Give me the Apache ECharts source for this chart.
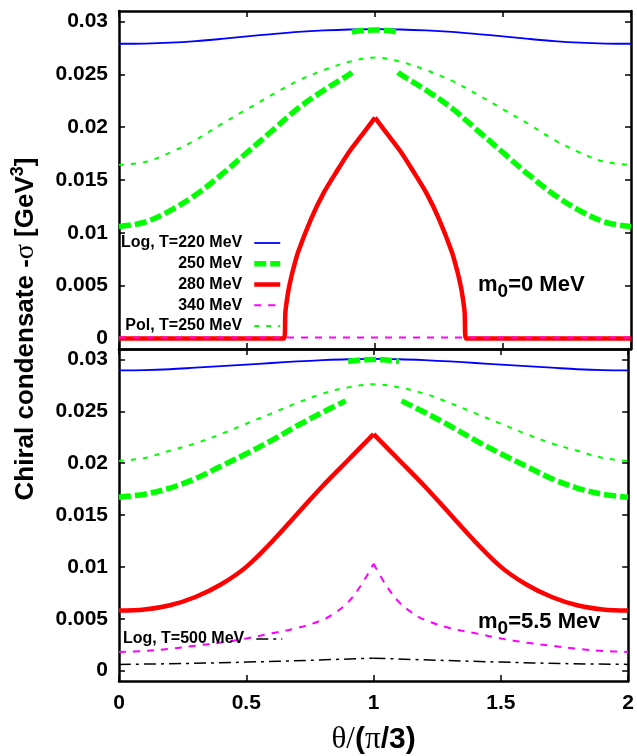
<!DOCTYPE html>
<html><head><meta charset="utf-8">
<script src="https://cdn.jsdelivr.net/npm/echarts@6/dist/echarts.min.js"></script>
<style>html,body{margin:0;padding:0;background:#fff}#c{width:637px;height:756px}</style>
</head><body><div id="c"></div>
<script>
// ---- tick labels ----
const xTicks = [0, 0.5, 1, 1.5, 2];
const yTicks = [0, 0.005, 0.01, 0.015, 0.02, 0.025, 0.03];

// ---- common x sampling ----
const xGrid = [0, 0.1, 0.2, 0.3, 0.4, 0.5, 0.6, 0.7, 0.8, 0.9, 1.0, 1.1, 1.2, 1.3, 1.4, 1.5, 1.6, 1.7, 1.8, 1.9, 2.0];

// ===== Top panel: m0 = 0 MeV =====
const blueTop = [0.02790, 0.02792, 0.02800, 0.02815, 0.02836, 0.02860, 0.02882, 0.02902, 0.02916, 0.02925, 0.02928,
                 0.02925, 0.02916, 0.02902, 0.02882, 0.02860, 0.02836, 0.02815, 0.02800, 0.02792, 0.02790];
const g250TopX = [0, 0.1, 0.2, 0.3, 0.4, 0.5, 0.6, 0.7, 0.8, 0.9, 0.91, 0.91, 0.91, 0.95, 1.0, 1.05, 1.09, 1.09, 1.09, 1.1, 1.2, 1.3, 1.4, 1.5, 1.6, 1.7, 1.8, 1.9, 2.0];
const g250TopY = [0.0106, 0.0110, 0.0121, 0.0136, 0.0155, 0.0176, 0.0197, 0.0218, 0.0235, 0.0250, 0.0252, null,
                  0.0290, 0.02915, 0.0292, 0.02915, 0.0290, null,
                  0.0252, 0.0250, 0.0235, 0.0218, 0.0197, 0.0176, 0.0155, 0.0136, 0.0121, 0.0110, 0.0106];
const redTopX = [0, 0.645, 0.65, 0.66, 0.67, 0.68, 0.70, 0.75, 0.80, 0.85, 0.90, 0.95, 1.00, 1.05, 1.10, 1.15, 1.20, 1.25, 1.30, 1.32, 1.33, 1.34, 1.35, 1.355, 2.0];
const redTopY = [0, 0, 0.0025, 0.0043, 0.0055, 0.0065, 0.0082, 0.0113, 0.0138, 0.0158, 0.0177, 0.0193, 0.0209,
                 0.0193, 0.0177, 0.0158, 0.0138, 0.0113, 0.0082, 0.0065, 0.0055, 0.0043, 0.0025, 0, 0];
const magTop = [0.0001, 0.0001, 0.0001, 0.0001, 0.0001, 0.0001, 0.0001, 0.0001, 0.0001, 0.0001, 0.0001,
                0.0001, 0.0001, 0.0001, 0.0001, 0.0001, 0.0001, 0.0001, 0.0001, 0.0001, 0.0001];
const polTop = [0.01645, 0.0167, 0.0176, 0.0188, 0.0203, 0.0217, 0.0231, 0.0244, 0.0254, 0.0262, 0.0266,
                0.0262, 0.0254, 0.0244, 0.0231, 0.0217, 0.0203, 0.0188, 0.0176, 0.0167, 0.01645];

// ===== Bottom panel: m0 = 5.5 MeV =====
const blueBot = [0.02894, 0.02896, 0.02905, 0.02920, 0.02935, 0.02950, 0.02965, 0.02980, 0.02992, 0.03001, 0.03005,
                 0.03001, 0.02992, 0.02980, 0.02965, 0.02950, 0.02935, 0.02920, 0.02905, 0.02896, 0.02894];
const g250BotX = [0, 0.1, 0.2, 0.3, 0.4, 0.5, 0.6, 0.7, 0.8, 0.89, 0.895, 0.9, 0.95, 1.0, 1.05, 1.1, 1.105, 1.11, 1.2, 1.3, 1.4, 1.5, 1.6, 1.7, 1.8, 1.9, 2.0];
const g250BotY = [0.01672, 0.0170, 0.0176, 0.0185, 0.0197, 0.0209, 0.0222, 0.0236, 0.0249, 0.0260, null,
                  0.0298, 0.02995, 0.0300, 0.02995, 0.0298, null,
                  0.0260, 0.0249, 0.0236, 0.0222, 0.0209, 0.0197, 0.0185, 0.0176, 0.0170, 0.01672];
const redBotX = [0, 0.1, 0.2, 0.3, 0.4, 0.5, 0.6, 0.7, 0.8, 0.9, 1.0, 1.1, 1.2, 1.3, 1.4, 1.5, 1.6, 1.7, 1.8, 1.9, 2.0];
const redBotY = [0.0058, 0.0059, 0.0063, 0.0071, 0.0083, 0.0100, 0.0124, 0.0151, 0.0178, 0.0203, 0.0228,
                 0.0203, 0.0178, 0.0151, 0.0124, 0.0100, 0.0083, 0.0071, 0.0063, 0.0059, 0.0058];
const magBotX = [0, 0.1, 0.2, 0.3, 0.4, 0.5, 0.6, 0.7, 0.8, 0.85, 0.9, 0.95, 1.0, 1.05, 1.1, 1.15, 1.2, 1.3, 1.4, 1.5, 1.6, 1.7, 1.8, 1.9, 2.0];
const magBotY = [0.0018, 0.0019, 0.0021, 0.0024, 0.0027, 0.0031, 0.0036, 0.0041, 0.0049, 0.0056, 0.0066, 0.0082, 0.0103,
                 0.0082, 0.0066, 0.0056, 0.0049, 0.0041, 0.0036, 0.0031, 0.0027, 0.0024, 0.0021, 0.0019, 0.0018];
const polBot = [0.0202, 0.0205, 0.0212, 0.0219, 0.0228, 0.0238, 0.0248, 0.0258, 0.0267, 0.0273, 0.0276,
                0.0273, 0.0267, 0.0258, 0.0248, 0.0238, 0.0228, 0.0219, 0.0212, 0.0205, 0.0202];
const blackBotX = [0, 0.25, 0.5, 0.75, 1.0, 1.25, 1.5, 1.75, 2.0];
const blackBotY = [0.0006, 0.00068, 0.00082, 0.0010, 0.0012, 0.0010, 0.00082, 0.00068, 0.0006];

// ===== names =====
const names = ['Log, T=220 MeV', '250 MeV', '280 MeV', '340 MeV', 'Pol, T=250 MeV'];
const name500 = 'Log, T=500 MeV';

const FONT = 'Liberation Sans';
const pairs = (xs, ys) => xs.map((x, i) => [x, ys[i] === null ? '-' : ys[i]]);
// split a curve with a cusp at x = 1 into its two smooth halves
const leftHalf = (xs, ys) => pairs(xs, ys).filter(p => p[0] <= 1);
const rightHalf = (xs, ys) => pairs(xs, ys).filter(p => p[0] >= 1);

function xAx(grid, pos, showLabel) {
  return {
    type: 'value', gridIndex: grid, position: pos, min: xTicks[0], max: xTicks[xTicks.length - 1], interval: 0.5,
    axisLine: { show: true, onZero: false, lineStyle: { color: '#000', width: 2.5 } },
    axisTick: { show: true, inside: true, length: 6, lineStyle: { color: '#000', width: 1.5 } },
    axisLabel: { show: showLabel, color: '#000', fontFamily: FONT, fontWeight: 'bold', fontSize: 21, margin: 12,
      formatter: v => String(v) },
    splitLine: { show: false }
  };
}
function yAx(grid, pos, showLabel) {
  return {
    type: 'value', gridIndex: grid, position: pos, min: -0.001, max: 0.031,
    axisLine: { show: true, onZero: false, lineStyle: { color: '#000', width: 2.5 } },
    axisTick: { show: true, inside: true, length: 6, customValues: yTicks, lineStyle: { color: '#000', width: 1.5 } },
    axisLabel: { show: showLabel, customValues: yTicks, color: '#000', fontFamily: FONT, fontWeight: 'bold', fontSize: 21, margin: 11,
      formatter: v => String(v) },
    splitLine: { show: false }
  };
}

function line(name, xi, yi, data, color, width, type, smooth, z) {
  return {
    type: 'line', name: name, xAxisIndex: xi, yAxisIndex: yi, data: data,
    symbol: 'none', showSymbol: false, connectNulls: false, smooth: smooth, animation: false,
    lineStyle: { color: color, width: width, type: type }, itemStyle: { color: color }, z: z || 2
  };
}

const BLUE = '#0000ff', GREEN = '#00ff00', RED = '#ff0000', MAG = '#ff00ff', BLACK = '#000000';
const dashThick = [12, 4], dashThin = [5, 7], dashMag = [7, 7], dashDot = [12, 5, 3, 5];
const SM = 0.35;

const chart = echarts.init(document.getElementById('c'), null, { renderer: 'canvas' });
const legendText = { fontFamily: FONT, fontWeight: 'bold', fontSize: 16, color: '#000', lineHeight: 20, padding: [0, 7, 0, 0] };

chart.setOption({
  animation: false,
  backgroundColor: '#fff',
  grid: [
    { left: 119, right: 6, top: 11, height: 338 },
    { left: 119, right: 6, top: 349, height: 339 }
  ],
  xAxis: [
    xAx(0, 'bottom', false),
    xAx(0, 'top', false),
    Object.assign(xAx(1, 'bottom', true), {
      name: '{n|θ/}{b|(}{n|π}{b|/3)}', nameLocation: 'middle', nameGap: 43,
      nameTextStyle: { rich: {
        n: { fontFamily: 'Liberation Serif', fontSize: 31, color: '#000' },
        b: { fontFamily: FONT, fontWeight: 'bold', fontSize: 30, color: '#000' }
      } }
    }),
    xAx(1, 'top', false)
  ],
  yAxis: [
    yAx(0, 'left', true),
    yAx(0, 'right', false),
    yAx(1, 'left', true),
    yAx(1, 'right', false)
  ],
  legend: [
    { data: names, orient: 'vertical', align: 'right', right: 354, top: 233, padding: 0,
      itemWidth: 26, itemHeight: 10, itemGap: 0.75, selectedMode: false,
      textStyle: legendText, lineStyle: { width: 'inherit' }, itemStyle: { opacity: 0 } },
    { data: [name500], orient: 'vertical', align: 'right', right: 354, top: 629, padding: 0,
      itemWidth: 26, itemHeight: 10, selectedMode: false,
      textStyle: legendText, lineStyle: { width: 'inherit' }, itemStyle: { opacity: 0 } }
  ],
  graphic: [
    { type: 'text', x: 26, y: 329, rotation: Math.PI / 2, silent: true,
      style: { text: '{b|Chiral condensate -}{g|σ}{b| [GeV}{s|3}{b|]}', align: 'center', verticalAlign: 'middle', fill: '#000',
        rich: {
          b: { fontFamily: FONT, fontWeight: 'bold', fontSize: 26, lineHeight: 33, fill: '#000' },
          g: { fontFamily: 'Liberation Serif', fontSize: 28, lineHeight: 33, fill: '#000' },
          s: { fontFamily: FONT, fontWeight: 'bold', fontSize: 18, lineHeight: 18, verticalAlign: 'top', fill: '#000' }
        } } },
    { type: 'text', left: 478, top: 273.5, silent: true,
      style: { text: '{a|m}{s|0}{a|=0 MeV}', fill: '#000',
        rich: {
          a: { fontFamily: FONT, fontWeight: 'bold', fontSize: 22, lineHeight: 22, verticalAlign: 'top', fill: '#000' },
          s: { fontFamily: FONT, fontWeight: 'bold', fontSize: 19, lineHeight: 36, fill: '#000' }
        } } },
    { type: 'text', left: 478, top: 610.5, silent: true,
      style: { text: '{a|m}{s|0}{a|=5.5 Mev}', fill: '#000',
        rich: {
          a: { fontFamily: FONT, fontWeight: 'bold', fontSize: 22, lineHeight: 22, verticalAlign: 'top', fill: '#000' },
          s: { fontFamily: FONT, fontWeight: 'bold', fontSize: 19, lineHeight: 36, fill: '#000' }
        } } }
  ],
  series: [
    line(names[0], 0, 0, pairs(xGrid, blueTop), BLUE, 1.8, 'solid', SM),
    line(names[1], 0, 0, pairs(g250TopX, g250TopY), GREEN, 5.5, dashThick, SM),
    line(names[2], 0, 0, leftHalf(redTopX, redTopY), RED, 4.5, 'solid', 0.25),
    line(names[2], 0, 0, rightHalf(redTopX, redTopY), RED, 4.5, 'solid', 0.25),
    line(names[3], 0, 0, pairs(xGrid, magTop), MAG, 2, dashMag, false, 5),
    line(names[4], 0, 0, pairs(xGrid, polTop), GREEN, 2, dashThin, SM, 3),

    line(names[0], 2, 2, pairs(xGrid, blueBot), BLUE, 1.8, 'solid', SM),
    line(names[1], 2, 2, pairs(g250BotX, g250BotY), GREEN, 5.5, dashThick, SM),
    line(names[2], 2, 2, leftHalf(redBotX, redBotY), RED, 4.5, 'solid', SM),
    line(names[2], 2, 2, rightHalf(redBotX, redBotY), RED, 4.5, 'solid', SM),
    line(names[3], 2, 2, leftHalf(magBotX, magBotY), MAG, 2, dashMag, SM, 3),
    line(names[3], 2, 2, rightHalf(magBotX, magBotY), MAG, 2, dashMag, SM, 3),
    line(names[4], 2, 2, pairs(xGrid, polBot), GREEN, 2, dashThin, SM, 3),
    line(name500, 2, 2, leftHalf(blackBotX, blackBotY), BLACK, 1.5, dashDot, SM, 3),
    line(name500, 2, 2, rightHalf(blackBotX, blackBotY), BLACK, 1.5, dashDot, SM, 3)
  ]
});
</script>
</body></html>
